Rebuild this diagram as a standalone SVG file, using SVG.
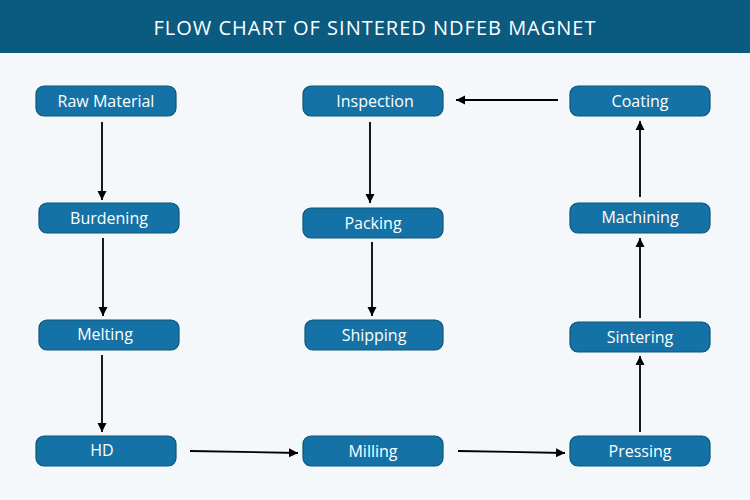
<svg xmlns="http://www.w3.org/2000/svg" width="750" height="500" viewBox="0 0 750 500">
<defs>
<style>
.n rect{fill:#1472a6;stroke:#0d5578;stroke-width:1.2}
.n text{fill:#fff;font-family:"Open Sans","Noto Sans",sans-serif;font-size:16px;text-anchor:middle;dominant-baseline:central}
.c line{stroke:#000;stroke-width:1.8;marker-end:url(#a)}
</style>
<marker id="a" viewBox="0 0 10 10" refX="10" refY="5" markerWidth="5" markerHeight="7" orient="auto" markerUnits="strokeWidth"><path d="M0,0L10,5L0,10z" fill="#000"/></marker>
</defs>
<rect width="750" height="500" fill="#f5f8fb"/>
<rect width="750" height="53" fill="#0b5a80"/>
<text x="375" y="27" fill="#fff" font-family="'Open Sans','Noto Sans',sans-serif" font-size="20" letter-spacing="1" text-anchor="middle" dominant-baseline="central">FLOW CHART OF SINTERED NDFEB MAGNET</text>
<g class="c">
<line x1="102" y1="122" x2="102" y2="200"/>
<line x1="103" y1="238" x2="103" y2="316"/>
<line x1="102" y1="355" x2="102" y2="432"/>
<line x1="190" y1="451" x2="298" y2="453"/>
<line x1="458" y1="451" x2="565" y2="453"/>
<line x1="640" y1="432" x2="640" y2="356"/>
<line x1="640" y1="318" x2="640" y2="238"/>
<line x1="640" y1="197" x2="640" y2="121"/>
<line x1="558" y1="100" x2="456" y2="100"/>
<line x1="370" y1="122" x2="370" y2="203"/>
<line x1="372" y1="242" x2="372" y2="316"/>
</g>
<g id="raw" class="n"><rect x="36" y="86" width="140" height="30" rx="8"/><text x="106" y="101">Raw Material</text></g>
<g id="burdening" class="n"><rect x="39" y="203" width="140" height="30" rx="8"/><text x="109" y="218">Burdening</text></g>
<g id="melting" class="n"><rect x="39" y="320" width="140" height="30" rx="8"/><text x="105" y="334">Melting</text></g>
<g id="hd" class="n"><rect x="36" y="436" width="140" height="30" rx="8"/><text x="102" y="450">HD</text></g>
<g id="inspection" class="n"><rect x="303" y="86" width="140" height="30" rx="8"/><text x="375" y="101">Inspection</text></g>
<g id="packing" class="n"><rect x="303" y="208" width="140" height="30" rx="8"/><text x="373" y="223">Packing</text></g>
<g id="shipping" class="n"><rect x="305" y="320" width="138" height="30" rx="8"/><text x="374" y="335">Shipping</text></g>
<g id="milling" class="n"><rect x="303" y="436" width="140" height="30" rx="8"/><text x="373" y="451">Milling</text></g>
<g id="coating" class="n"><rect x="570" y="86" width="140" height="30" rx="8"/><text x="640" y="101">Coating</text></g>
<g id="machining" class="n"><rect x="570" y="203" width="140" height="30" rx="8"/><text x="640" y="217">Machining</text></g>
<g id="sintering" class="n"><rect x="570" y="322" width="140" height="30" rx="8"/><text x="640" y="337">Sintering</text></g>
<g id="pressing" class="n"><rect x="570" y="436" width="140" height="30" rx="8"/><text x="640" y="451">Pressing</text></g>
</svg>
